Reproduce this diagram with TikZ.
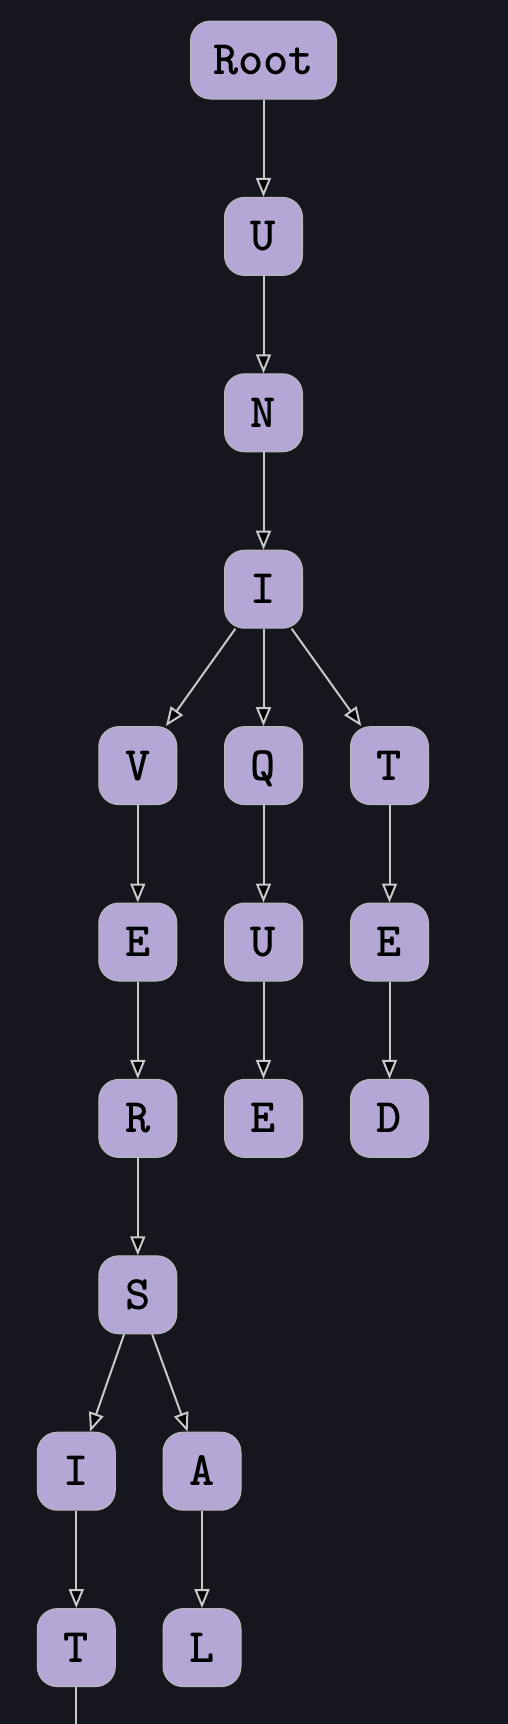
\documentclass[tikz,border=0pt]{standalone}
\usetikzlibrary{arrows.meta}
\definecolor{bgc}{HTML}{15161E}
\definecolor{nodefill}{HTML}{B4A7D6}
\definecolor{nodeline}{HTML}{B8B8B8}
\definecolor{edgec}{HTML}{C8C8C8}
\begin{document}
\begin{tikzpicture}[x=1pt,y=-1pt,
  trie/.style={draw=nodeline, line width=1pt, fill=nodefill, rounded corners=20pt,
    minimum width=78pt, minimum height=78pt, inner sep=0pt,
    font=\fontsize{48}{52}\selectfont\ttfamily\bfseries, text=black,
    text height=29pt, text depth=0pt},
  edge/.style={draw=edgec, line width=2pt,
    -{Triangle[length=19pt, width=15pt, fill=black]}},
  plain/.style={draw=edgec, line width=2pt}]
\fill[bgc] (0,0) rectangle (508,1724);
\useasboundingbox (0,0) rectangle (508,1724);
\def\ra{60}\def\rb{236.4}\def\rc{412.8}\def\rd{589.2}\def\re{765.6}
\def\rf{942}\def\rg{1118.4}\def\rh{1294.8}\def\ri{1471.2}\def\rj{1647.6}
\node[trie, minimum width=146pt] (root) at (263.5,\ra) {Root};
\node[trie] (u1) at (263.5,\rb) {U};
\node[trie] (n1) at (263.5,\rc) {N};
\node[trie] (i1) at (263.5,\rd) {I};
\node[trie] (v1) at (137.8,\re) {V};
\node[trie] (q1) at (263.5,\re) {Q};
\node[trie] (t1) at (389.5,\re) {T};
\node[trie] (e1) at (137.8,\rf) {E};
\node[trie] (u2) at (263.5,\rf) {U};
\node[trie] (e3) at (389.5,\rf) {E};
\node[trie] (r1) at (137.8,\rg) {R};
\node[trie] (e2) at (263.5,\rg) {E};
\node[trie] (d1) at (389.5,\rg) {D};
\node[trie] (s1) at (137.8,\rh) {S};
\node[trie] (i2) at (76.3,\ri) {I};
\node[trie] (a1) at (202,\ri) {A};
\node[trie] (t2) at (76.3,\rj) {T};
\node[trie] (l1) at (202,\rj) {L};
\coordinate (cut) at (76.3,1724);
\draw[edge] (root) -- (u1);
\draw[edge] (u1) -- (n1);
\draw[edge] (n1) -- (i1);
\draw[edge] (i1) -- (v1);
\draw[edge] (i1) -- (q1);
\draw[edge] (i1) -- (t1);
\draw[edge] (v1) -- (e1);
\draw[edge] (e1) -- (r1);
\draw[edge] (r1) -- (s1);
\draw[edge] (s1) -- (i2);
\draw[edge] (s1) -- (a1);
\draw[edge] (i2) -- (t2);
\draw[edge] (a1) -- (l1);
\draw[edge] (q1) -- (u2);
\draw[edge] (u2) -- (e2);
\draw[edge] (t1) -- (e3);
\draw[edge] (e3) -- (d1);
\draw[plain] (t2) -- (cut);
\end{tikzpicture}
\end{document}
